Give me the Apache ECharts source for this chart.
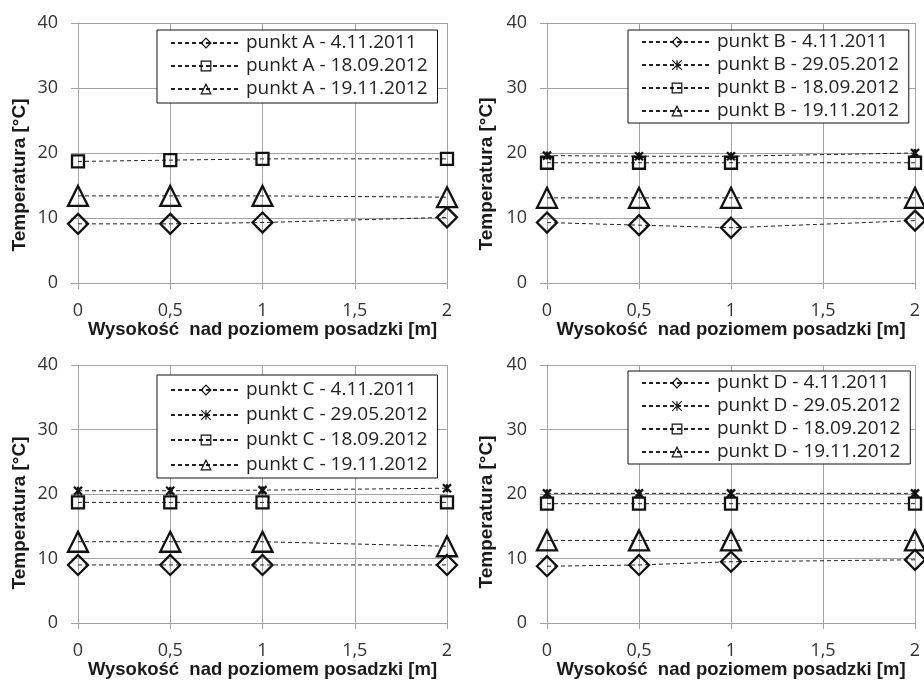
<!DOCTYPE html>
<html>
<head>
<meta charset="utf-8">
<script src="https://cdn.jsdelivr.net/npm/echarts@6/dist/echarts.min.js"></script>
<style>
html,body{margin:0;padding:0;background:#fff;}
#chart{width:924px;height:681px;}
</style>
</head>
<body>
<div id="chart"></div>
<script>
// ---------- DATA ----------
const heights = [0, 0.5, 1, 2];                 // Wysokość nad poziomem posadzki [m]
const xTickLabels = ['0', '0,5', '1', '1,5', '2'];
const yTickLabels = ['0', '10', '20', '30', '40'];
const xTitle = 'Wysokość  nad poziomem posadzki [m]';
const yTitle = 'Temperatura [°C]';

// punkt A
const A_04_11_2011 = [9.1, 9.1, 9.3, 10.1];
const A_18_09_2012 = [18.7, 18.9, 19.1, 19.1];
const A_19_11_2012 = [13.4, 13.4, 13.4, 13.2];
// punkt B
const B_04_11_2011 = [9.3, 8.9, 8.5, 9.6];
const B_29_05_2012 = [19.6, 19.5, 19.5, 20.0];
const B_18_09_2012 = [18.5, 18.5, 18.5, 18.5];
const B_19_11_2012 = [13.1, 13.1, 13.1, 13.1];
// punkt C
const C_04_11_2011 = [9.0, 9.0, 9.0, 9.0];
const C_29_05_2012 = [20.5, 20.5, 20.6, 20.9];
const C_18_09_2012 = [18.7, 18.7, 18.7, 18.7];
const C_19_11_2012 = [12.6, 12.6, 12.6, 11.9];
// punkt D
const D_04_11_2011 = [8.8, 9.0, 9.5, 9.8];
const D_29_05_2012 = [20.1, 20.1, 20.1, 20.1];
const D_18_09_2012 = [18.5, 18.5, 18.5, 18.5];
const D_19_11_2012 = [12.8, 12.8, 12.8, 12.8];

const panelData = [
  { point: 'A', series: [['4.11.2011', A_04_11_2011], ['18.09.2012', A_18_09_2012], ['19.11.2012', A_19_11_2012]] },
  { point: 'B', series: [['4.11.2011', B_04_11_2011], ['29.05.2012', B_29_05_2012], ['18.09.2012', B_18_09_2012], ['19.11.2012', B_19_11_2012]] },
  { point: 'C', series: [['4.11.2011', C_04_11_2011], ['29.05.2012', C_29_05_2012], ['18.09.2012', C_18_09_2012], ['19.11.2012', C_19_11_2012]] },
  { point: 'D', series: [['4.11.2011', D_04_11_2011], ['29.05.2012', D_29_05_2012], ['18.09.2012', D_18_09_2012], ['19.11.2012', D_19_11_2012]] }
];

// ---------- LAYOUT / STYLE ----------
const layout = [
  { grid: { left: 78, top: 23, width: 369, height: 260 }, legend: { left: 157, top: 30, gap: 3, pad: [3, 10, 4, 13] }, yTitle: [20, 175] },
  { grid: { left: 547, top: 23, width: 368, height: 260 }, legend: { left: 628, top: 30, gap: 3, pad: [2, 10, 2, 13] }, yTitle: [487, 174] },
  { grid: { left: 78, top: 365, width: 369, height: 258 }, legend: { left: 157, top: 375, gap: 5, pad: [5, 10, 3, 13] }, yTitle: [20, 513] },
  { grid: { left: 547, top: 365, width: 368, height: 258 }, legend: { left: 628, top: 371, gap: 3, pad: [2, 10, 2, 13] }, yTitle: [487, 512] }
];

const markerStyle = {
  '4.11.2011':  { symbol: 'diamond', symbolSize: [20, 20] },
  '29.05.2012': { symbol: 'path://M0,0L10,10M10,0L0,10M5,0L5,10', symbolSize: [8, 8] },
  '18.09.2012': { symbol: 'rect', symbolSize: 12 },
  '19.11.2012': { symbol: 'triangle', symbolSize: [20, 20] }
};

const FONT = 'Open Sans';
const gridColor = '#a3a3a3';

const grids = [], xAxes = [], yAxes = [], legends = [], series = [], graphics = [];

panelData.forEach((p, i) => {
  const L = layout[i];
  grids.push(Object.assign({ containLabel: false }, L.grid));
  xAxes.push({
    type: 'value', gridIndex: i, min: 0, max: 2, interval: 0.5,
    axisLine: { show: true, onZero: false, lineStyle: { color: gridColor, width: 1 } },
    axisTick: { show: true, length: 6, lineStyle: { color: gridColor } },
    splitLine: { show: true, lineStyle: { color: gridColor, width: 1 } },
    axisLabel: {
      margin: 19, fontFamily: FONT, fontSize: 18, color: '#333',
      formatter: v => xTickLabels[Math.round(v / 0.5)]
    },
    name: xTitle, nameLocation: 'middle', nameGap: 37,
    nameTextStyle: { fontFamily: 'Liberation Sans', fontWeight: 'bold', fontSize: 18.5, color: '#1a1a1a' }
  });
  yAxes.push({
    type: 'value', gridIndex: i, min: 0, max: 40, interval: 10,
    axisLine: { show: true, onZero: false, lineStyle: { color: gridColor, width: 1 } },
    axisTick: { show: true, length: 7, lineStyle: { color: gridColor } },
    splitLine: { show: true, lineStyle: { color: gridColor, width: 1 } },
    axisLabel: {
      margin: 20, fontFamily: FONT, fontSize: 18, color: '#333',
      formatter: v => yTickLabels[Math.round(v / 10)]
    }
  });
  const names = [];
  p.series.forEach(([date, vals]) => {
    const name = 'punkt ' + p.point + ' - ' + date;
    names.push(name);
    const m = markerStyle[date];
    series.push({
      type: 'line', name: name, xAxisIndex: i, yAxisIndex: i,
      data: heights.map((h, k) => [h, vals[k]]),
      symbol: m.symbol, symbolSize: m.symbolSize, showSymbol: true,
      lineStyle: { color: '#222', width: 1, type: [4, 3] },
      itemStyle: { color: 'rgba(0,0,0,0)', borderColor: '#111', borderWidth: 2.3 },
      emphasis: { disabled: true },
      animation: false
    });
  });
  legends.push({
    data: names, orient: 'vertical', left: L.legend.left, top: L.legend.top,
    itemWidth: 70, itemHeight: 12, itemGap: L.legend.gap, padding: L.legend.pad,
    borderColor: '#111', borderWidth: 1, backgroundColor: '#fff', borderRadius: 0,
    selectedMode: false,
    itemStyle: { borderWidth: 1.2 },
    textStyle: { fontFamily: FONT, fontSize: 19, color: '#222', lineHeight: 20 }
  });
  graphics.push({
    type: 'text', x: L.yTitle[0], y: L.yTitle[1], rotation: Math.PI / 2,
    style: {
      text: yTitle, x: 0, y: 0, textAlign: 'center', textVerticalAlign: 'middle',
      font: 'bold 19px "Liberation Sans"', fill: '#1a1a1a'
    }
  });
});

const chart = echarts.init(document.getElementById('chart'), null, { renderer: 'canvas' });
chart.setOption({
  backgroundColor: '#fff',
  animation: false,
  grid: grids,
  xAxis: xAxes,
  yAxis: yAxes,
  legend: legends,
  series: series,
  graphic: graphics
});
</script>
</body>
</html>
